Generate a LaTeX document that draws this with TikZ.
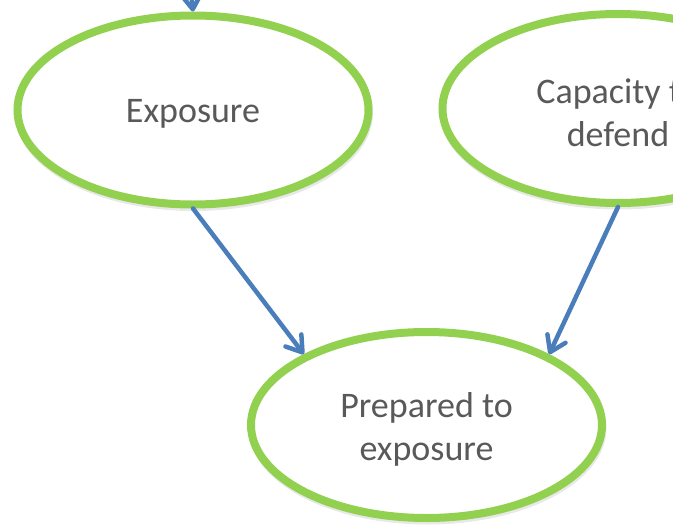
\documentclass[tikz,border=0pt]{standalone}
\usepackage{fontspec}
\setmainfont{Carlito}
\usetikzlibrary{arrows.meta,shapes.geometric}
\definecolor{ringgreen}{HTML}{92D050}
\definecolor{linkblue}{HTML}{4A7EBB}
\definecolor{labelgray}{HTML}{595959}
\tikzset{
  bubble/.style={ellipse, draw=ringgreen, line width=8pt, fill=white,
    inner sep=0pt, minimum width=351pt, minimum height=189pt},
  caption/.style={text=labelgray, align=center, inner sep=0pt,
    font=\fontsize{36}{43}\selectfont, yshift=-4pt},
  bubbleshade/.style={ellipse, draw=black!30, line width=7pt, opacity=0.3,
    inner sep=0pt, minimum width=351pt, minimum height=189pt},
  link/.style={draw=linkblue, line width=4.5pt, line cap=round,
    -{Straight Barb[length=15pt,width=20pt,line cap=round,line join=round]}},
}
\begin{document}
\begin{tikzpicture}[x=1pt,y=-1pt]
  \useasboundingbox (0,0) rectangle (673,525);
  \clip (0,0) rectangle (673,525);
  % soft shadows under the rings
  \node[bubbleshade] at (194,113) {};
  \node[bubbleshade] at (619,111.5) {};
  \node[bubbleshade, minimum height=186pt] at (427.5,428) {};
  % the three concepts
  \node[bubble, label={[caption]center:Exposure}] (exp) at (193,110) {};
  \node[bubble, label={[caption]center:{Capacity to\\defend}}] (cap) at (618,108.5) {};
  \node[bubble, minimum height=186pt,
        label={[caption]center:{Prepared to\\exposure}}] (prep) at (426.5,425) {};
  % incoming link from above
  \coordinate (above) at (186,-60);
  \draw[link] (above) -- (exp.north);
  % links into the bottom concept
  \draw[link] (exp.south) -- (prep.150);
  \draw[link] (cap.south) -- (prep.30);
\end{tikzpicture}
\end{document}
